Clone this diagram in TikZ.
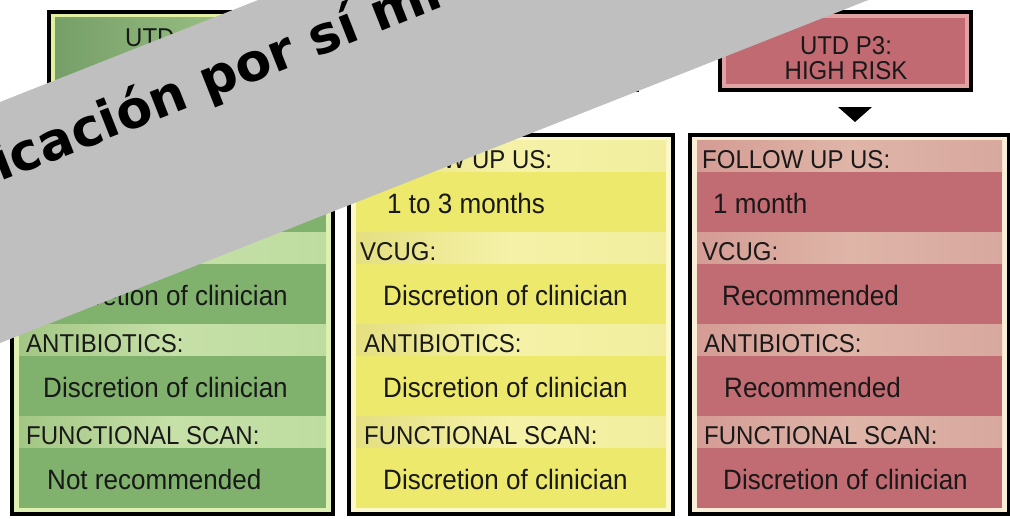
\documentclass[tikz,border=0pt]{standalone}
\usepackage{fontspec}
\newfontfamily\boxfont[FakeStretch=0.93]{Liberation Sans}
\newfontfamily\bannerfont{DejaVu Sans}
\usetikzlibrary{calc}

% panel colours
\definecolor{gval}{RGB}{128,177,109}
\definecolor{ghdrA}{RGB}{162,198,132}
\definecolor{ghdrB}{RGB}{198,224,168}
\definecolor{ghdrC}{RGB}{190,220,160}
\definecolor{gframe}{RGB}{222,240,178}
\definecolor{gtopA}{RGB}{118,158,104}
\definecolor{gtopB}{RGB}{165,205,140}
\definecolor{gtopframe}{RGB}{224,240,160}

\definecolor{yval}{RGB}{237,233,108}
\definecolor{yhdrA}{RGB}{228,223,128}
\definecolor{yhdrB}{RGB}{245,242,168}
\definecolor{yhdrC}{RGB}{242,238,158}
\definecolor{yframe}{RGB}{250,248,204}
\definecolor{ytop}{RGB}{237,233,108}
\definecolor{ytopframe}{RGB}{250,248,190}

\definecolor{rval}{RGB}{193,107,114}
\definecolor{rhdrA}{RGB}{212,156,148}
\definecolor{rhdrB}{RGB}{223,181,168}
\definecolor{rhdrC}{RGB}{216,168,158}
\definecolor{rframe}{RGB}{250,238,214}
\definecolor{rtop}{RGB}{193,106,113}
\definecolor{rtopframe}{RGB}{224,162,162}

\definecolor{bannergrey}{RGB}{191,191,191}
\definecolor{ink}{RGB}{25,25,25}

\begin{document}
\begin{tikzpicture}[x=1pt,y=-1pt,
  panel/.style={draw=black, line width=4pt, rectangle, inner sep=0pt, outer sep=0pt, anchor=north west},
  band/.style={rectangle, draw=none, inner sep=0pt, outer sep=0pt, anchor=north west},
  hdrtext/.style={anchor=base west, inner sep=0pt, text=ink, font=\boxfont\fontsize{25.8}{30}\selectfont},
  valtext/.style={anchor=base west, inner sep=0pt, text=ink, font=\boxfont\fontsize{28}{32}\selectfont},
  toptext/.style={anchor=base, inner sep=0pt, text=ink, font=\boxfont\fontsize{25.8}{30}\selectfont}]

\useasboundingbox (0,0) rectangle (1010,519);
\clip (0,0) rectangle (1010,519);
\fill[white] (0,0) rectangle (1010,519);

% ---------- top risk boxes ----------
\node[panel, fill=gtopframe, minimum width=251pt, minimum height=78pt] (gtop) at (49,12) {};
\node[band, left color=gtopA, right color=gtopB, minimum width=239pt, minimum height=66pt] (gtopfill) at (55,18) {};
\node[hdrtext] (gtoplabel) at (125,47) {UTD};

\node[panel, fill=ytopframe, minimum width=251pt, minimum height=78pt] (ytop) at (386,12) {};
\node[band, fill=ytop, minimum width=239pt, minimum height=66pt] (ytopfill) at (392,18) {};

\node[panel, fill=rtopframe, minimum width=251pt, minimum height=78pt] (rtop) at (720,12) {};
\node[band, fill=rtop, minimum width=239pt, minimum height=66pt] (rtopfill) at (726,18) {};
\node[toptext] (rtoplineA) at (846,55) {UTD P3:};
\node[toptext] (rtoplineB) at (846,80) {HIGH RISK};

% arrow head below the high risk box
\coordinate (rarrow) at (855,107);
\fill[black] ($(rarrow)+(-17,0)$) -- ($(rarrow)+(17,0)$) -- ($(rarrow)+(0,15)$) -- cycle;

% ---------- recommendation panels ----------
\node[panel, fill=gframe, minimum width=321pt, minimum height=379pt] (gpanel) at (12,135) {};
\node[panel, fill=yframe, minimum width=324pt, minimum height=379pt] (ypanel) at (349,135) {};
\node[panel, fill=rframe, minimum width=319pt, minimum height=379pt] (rpanel) at (690,135) {};

\foreach \k in {0,1,2,3} {
  % green column
  \node[band, left color=ghdrA, right color=ghdrC, middle color=ghdrB,
        minimum width=307pt, minimum height=32pt] (gh\k) at (19,{140+92*\k}) {};
  \node[band, fill=gval, minimum width=307pt, minimum height=60pt] (gv\k) at (19,{172+92*\k}) {};
  % yellow column
  \node[band, left color=yhdrA, right color=yhdrC, middle color=yhdrB,
        minimum width=310pt, minimum height=32pt] (yh\k) at (356,{140+92*\k}) {};
  \node[band, fill=yval, minimum width=310pt, minimum height=60pt] (yv\k) at (356,{172+92*\k}) {};
  % red column
  \node[band, left color=rhdrA, right color=rhdrC, middle color=rhdrB,
        minimum width=305pt, minimum height=32pt] (rh\k) at (697,{140+92*\k}) {};
  \node[band, fill=rval, minimum width=305pt, minimum height=60pt] (rv\k) at (697,{172+92*\k}) {};
}

% green column texts
\node[valtext] (gt2v) at (43,305) {Discretion of clinician};
\node[hdrtext] (gt3h) at (26,352) {ANTIBIOTICS:};
\node[valtext] (gt3v) at (43,397) {Discretion of clinician};
\node[hdrtext] (gt4h) at (26,444) {FUNCTIONAL SCAN:};
\node[valtext] (gt4v) at (47,489) {Not recommended};

% yellow column texts
\node[hdrtext] (yt1h) at (364,168) {FOLLOW UP US:};
\node[valtext] (yt1v) at (387,213) {1 to 3 months};
\node[hdrtext] (yt2h) at (360,260) {VCUG:};
\node[valtext] (yt2v) at (383,305) {Discretion of clinician};
\node[hdrtext] (yt3h) at (364,352) {ANTIBIOTICS:};
\node[valtext] (yt3v) at (383,397) {Discretion of clinician};
\node[hdrtext] (yt4h) at (364,444) {FUNCTIONAL SCAN:};
\node[valtext] (yt4v) at (383,489) {Discretion of clinician};

% red column texts
\node[hdrtext] (rt1h) at (702,168) {FOLLOW UP US:};
\node[valtext] (rt1v) at (713,213) {1 month};
\node[hdrtext] (rt2h) at (702,260) {VCUG:};
\node[valtext] (rt2v) at (722,305) {Recommended};
\node[hdrtext] (rt3h) at (704,352) {ANTIBIOTICS:};
\node[valtext] (rt3v) at (724,397) {Recommended};
\node[hdrtext] (rt4h) at (704,444) {FUNCTIONAL SCAN:};
\node[valtext] (rt4v) at (723,489) {Discretion of clinician};

% ---------- diagonal grey band ----------
\fill[bannergrey] (-20,109.9) -- (283.5,-10) -- (893.7,-10) -- (-20,350.9) -- cycle;
\node[anchor=base west, inner sep=0pt, rotate=21.55, text=black,
      font=\bannerfont\bfseries\fontsize{52}{52}\selectfont] (bandtext) at (0,182) {icación por sí mi};

\end{tikzpicture}
\end{document}
